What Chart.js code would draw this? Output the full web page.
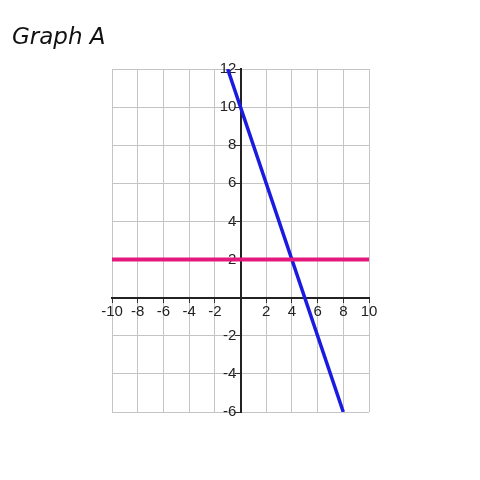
<!DOCTYPE html>
<html lang="en">
<head>
<meta charset="UTF-8">
<title>Graph A</title>
<script src="https://cdn.jsdelivr.net/npm/chart.js@4.4.1/dist/chart.umd.min.js"></script>
<style>
  html, body { margin: 0; padding: 0; background: #fff; }
  #wrap { width: 480px; height: 480px; }
</style>
</head>
<body>
<div id="wrap"><canvas id="c"></canvas></div>
<script>
    // data
    const xRange = [-10, 10];
    const yRange = [-6, 12];
    const tickStep = 2;

    // blue line y = -2x + 10, endpoints
    const blueX = [-1, 8];
    const blueY = [12, -6];

    // pink horizontal line y = 2
    const pinkX = [-10, 10];
    const pinkY = [2, 2];

    const titleText = 'Graph A';

    const toPoints = (xs, ys) => xs.map((x, i) => ({ x: x, y: ys[i] }));

    const tickFont = { family: "'Liberation Sans', Arial, sans-serif", size: 15 };

    // title sits at the top left corner of the page, outside the plot
    const cornerTitle = {
        id: 'cornerTitle',
        afterDraw(chart) {
            const c = chart.ctx;
            c.save();
            c.font = "italic 23px 'DejaVu Sans', sans-serif";
            c.fillStyle = '#111';
            c.textBaseline = 'alphabetic';
            c.textAlign = 'left';
            c.fillText(titleText, 12, 44);
            c.restore();
        }
    };

    const ctx = document.getElementById('c').getContext('2d');
    new Chart(ctx, {
        type: 'scatter',
        data: {
            datasets: [
                {
                    label: 'y = 2',
                    data: toPoints(pinkX, pinkY),
                    showLine: true,
                    borderColor: '#e5197d',
                    borderWidth: 4,
                    pointRadius: 0
                },
                {
                    label: 'y = -2x + 10',
                    data: toPoints(blueX, blueY),
                    showLine: true,
                    borderColor: '#1a1ae0',
                    borderWidth: 3.5,
                    pointRadius: 0
                }
            ]
        },
        plugins: [cornerTitle],
        options: {
            responsive: true,
            maintainAspectRatio: false,
            animation: false,
            layout: { padding: { left: 112, right: 111, top: 69, bottom: 68 } },
            plugins: {
                legend: { display: false },
                tooltip: { enabled: false },
                title: { display: false }
            },
            scales: {
                x: {
                    type: 'linear',
                    position: { y: 0 },
                    min: xRange[0],
                    max: xRange[1],
                    ticks: {
                        stepSize: tickStep,
                        autoSkip: false,
                        maxRotation: 0,
                        minRotation: 0,
                        color: '#222',
                        font: tickFont,
                        padding: 1,
                        callback: v => (v === 0 ? '' : v)
                    },
                    grid: { color: '#c4c4c4', lineWidth: 1, tickLength: 4, tickColor: '#333' },
                    border: { color: '#222', width: 2 }
                },
                y: {
                    type: 'linear',
                    position: { x: 0 },
                    min: yRange[0],
                    max: yRange[1],
                    ticks: {
                        stepSize: tickStep,
                        autoSkip: false,
                        color: '#222',
                        font: tickFont,
                        // labels on a centred axis end right at the axis line; a trailing space moves them clear of it
                        callback: v => (v === 0 ? '' : v + ' ')
                    },
                    grid: { color: '#c4c4c4', lineWidth: 1, tickLength: 5, tickColor: '#333' },
                    border: { color: '#222', width: 2 }
                }
            }
        }
    });
</script>
</body>
</html>
